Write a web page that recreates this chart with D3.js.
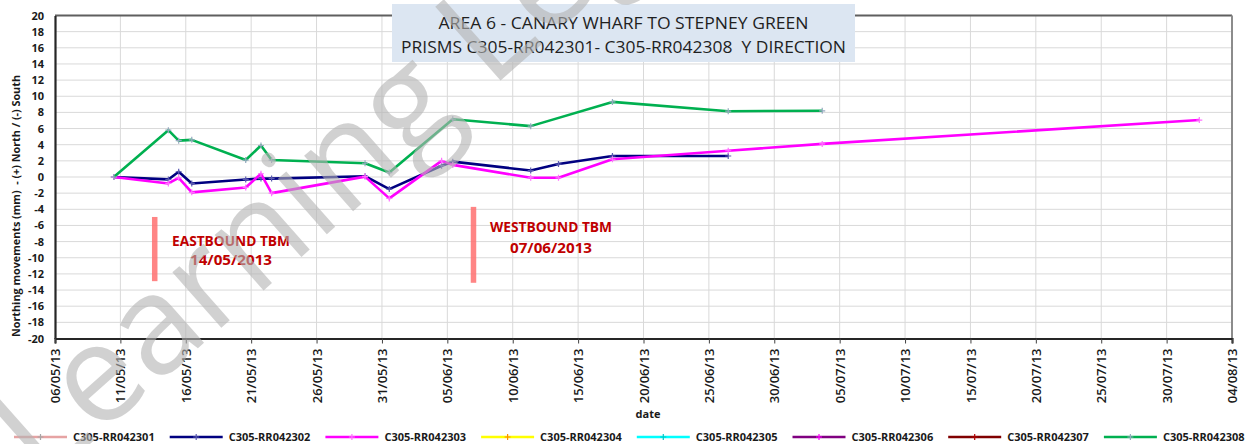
<!DOCTYPE html>
<html><head><meta charset="utf-8">
<script src="https://cdn.jsdelivr.net/npm/d3@7"></script>
<style>
body{margin:0;background:#fff;}
text{font-family:"Open Sans",sans-serif;}
</style>
</head><body>
<svg id="chart" width="1253" height="444"></svg>
<script>
// ---------- data ----------
const seriesNames = ["C305-RR042301","C305-RR042302","C305-RR042303","C305-RR042304","C305-RR042305","C305-RR042306","C305-RR042307","C305-RR042308"];
const seriesColors = ["#e6a3a3","#000080","#ff00ff","#ffff00","#00ffff","#800080","#800000","#00b050"];
const markerColors = ["#a6a6a6","#5a5ab0","#ff70ff","#ff8c00","#00c8c8","#ff00ff","#b00000","#95a9bf"];

const obsDates = ["2013-05-10 12:00","2013-05-14 16:00","2013-05-15 11:00","2013-05-16 11:00","2013-05-20 14:00",
  "2013-05-21 18:00","2013-05-22 13:30","2013-05-29 17:00","2013-05-31 13:30","2013-06-04 13:30",
  "2013-06-05 10:00","2013-06-11 09:00","2013-06-13 12:00","2013-06-17 15:00","2013-06-26 11:30",
  "2013-07-03 16:00","2013-08-01 12:00"];

const s301 = [];
const s302 = [0, -0.3, 0.65, -0.8, -0.3, -0.2, -0.2, 0.1, -1.5, 1.4, 1.9, 0.8, 1.6, 2.6, 2.6, null, null];
const s303 = [0, -0.8, -0.1, -1.9, -1.3, 0.4, -2.0, 0.05, -2.65, 2.0, 1.5, -0.1, -0.1, 2.2, 3.25, 4.1, 7.05];
const s304 = [];
const s305 = [];
const s306 = [];
const s307 = [];
const s308 = [0, 5.8, 4.5, 4.6, 2.1, 3.9, 2.1, 1.7, 0.55, null, 7.15, 6.3, null, 9.3, 8.15, 8.2, null];
const seriesValues = [s301,s302,s303,s304,s305,s306,s307,s308];

const xTickLabels = ["06/05/13","11/05/13","16/05/13","21/05/13","26/05/13","31/05/13","05/06/13","10/06/13","15/06/13",
  "20/06/13","25/06/13","30/06/13","05/07/13","10/07/13","15/07/13","20/07/13","25/07/13","30/07/13","04/08/13"];
const yTicks = [20,18,16,14,12,10,8,6,4,2,0,-2,-4,-6,-8,-10,-12,-14,-16,-18,-20];

const titleLines = ["AREA 6 - CANARY WHARF TO STEPNEY GREEN","PRISMS C305-RR042301- C305-RR042308  Y DIRECTION"];
const yAxisTitle = "Northing movements (mm)  - (+) North / (-) South";
const xAxisTitle = "date";

const tbmLabels = [["EASTBOUND TBM","14/05/2013"],["WESTBOUND TBM","07/06/2013"]];
const tbmBarDates = ["2013-05-13 15:00","2013-06-07 00:00"];
const tbmBarTop = [-4.95, -3.7];
const tbmBarBottom = [-12.9, -13.1];
const watermarkText = "Learning Legacy";

// ---------- setup ----------
const svg = d3.select("#chart");
const parseObs = d3.timeParse("%Y-%m-%d %H:%M");
const parseTick = d3.timeParse("%d/%m/%y");
const tickDates = xTickLabels.map(parseTick);
const dates = obsDates.map(parseObs);

const X0 = 55, X1 = 1232, Y0 = 15.5, Y1 = 338.5;
const x = d3.scaleTime().domain([tickDates[0], tickDates[tickDates.length-1]]).range([X0, X1]);
const y = d3.scaleLinear().domain([-20, 20]).range([Y1, Y0]);

// gridlines
const grid = svg.append("g");
grid.selectAll(".hg").data(yTicks).join("line")
  .attr("x1", X0).attr("x2", X1).attr("y1", d => y(d)).attr("y2", d => y(d))
  .attr("stroke", "#d9d9d9").attr("stroke-width", 1);
grid.selectAll(".vg").data(tickDates.slice(1)).join("line")
  .attr("x1", d => x(d)).attr("x2", d => x(d)).attr("y1", Y0).attr("y2", Y1)
  .attr("stroke", "#d9d9d9").attr("stroke-width", 1);

// frame top/right
svg.append("line").attr("x1", X0).attr("x2", X1).attr("y1", Y0).attr("y2", Y0).attr("stroke", "#5f5f5f").attr("stroke-width", 2);
svg.append("line").attr("x1", X1).attr("x2", X1).attr("y1", Y0).attr("y2", Y1).attr("stroke", "#8c8c8c").attr("stroke-width", 2);

// axes
const yAxis = svg.append("g").attr("transform", `translate(${X0},0)`)
  .call(d3.axisLeft(y).tickValues(yTicks).tickSize(0).tickPadding(11).tickFormat(d => d));
yAxis.select(".domain").attr("stroke", "#262626").attr("stroke-width", 2.2);
yAxis.selectAll("text").attr("font-size", 11).attr("font-weight", "bold").attr("fill", "#1a1a1a")
  .style("font-family", "'Open Sans',sans-serif");

const xAxis = svg.append("g").attr("transform", `translate(0,${Y1})`)
  .call(d3.axisBottom(x).tickValues(tickDates).tickSize(5).tickFormat((d,i) => xTickLabels[i]));
xAxis.select(".domain").attr("stroke", "#262626").attr("stroke-width", 2.2);
xAxis.selectAll("line").attr("stroke", "#404040");
xAxis.selectAll("text").attr("transform", "rotate(-90)").attr("x", -10).attr("y", 0).attr("dy", "0.35em")
  .attr("text-anchor", "end").attr("font-size", 13).attr("font-weight", 600).attr("fill", "#1a1a1a")
  .style("font-family", "'Open Sans',sans-serif");

// axis titles
svg.append("text").attr("transform", `translate(20,206) rotate(-90)`).attr("text-anchor", "middle")
  .attr("font-size", 10).attr("font-weight", "bold").attr("fill", "#1a1a1a")
  .style("white-space", "pre").attr("textLength", 262).attr("lengthAdjust", "spacingAndGlyphs").text(yAxisTitle);
svg.append("text").attr("x", 648).attr("y", 418).attr("text-anchor", "middle")
  .attr("font-size", 11).attr("font-weight", "bold").attr("fill", "#1a1a1a").text(xAxisTitle);

// title box
svg.append("rect").attr("x", 392).attr("y", 4).attr("width", 463).attr("height", 58).attr("fill", "#dce6f2");
const titleY = [29.3, 52.7], titleW = [370, 445];
titleLines.forEach((t, i) => {
  svg.append("text").attr("x", 623.5).attr("y", titleY[i]).attr("text-anchor", "middle")
    .attr("font-size", 17).attr("fill", "#1f1f1f").style("white-space", "pre")
    .attr("textLength", titleW[i]).attr("lengthAdjust", "spacingAndGlyphs").text(t);
});

// TBM annotations
tbmBarDates.forEach((d, i) => {
  const bx = x(parseObs(d));
  svg.append("rect").attr("x", bx - 2.75).attr("width", 5.5)
    .attr("y", y(tbmBarTop[i])).attr("height", y(tbmBarBottom[i]) - y(tbmBarTop[i]))
    .attr("fill", "#ff7070").attr("opacity", 0.85);
});
const tbmPos = [[231, 246, 265, 118, 82], [551, 232.3, 253.3, 122, 82]];
tbmLabels.forEach((lines, i) => {
  const p = tbmPos[i];
  svg.append("text").attr("x", p[0]).attr("y", p[1]).attr("text-anchor", "middle")
    .attr("font-size", 14).attr("font-weight", "bold").attr("fill", "#c00000")
    .attr("textLength", p[3]).attr("lengthAdjust", "spacingAndGlyphs").text(lines[0]);
  svg.append("text").attr("x", p[0]).attr("y", p[2]).attr("text-anchor", "middle")
    .attr("font-size", 14).attr("font-weight", "bold").attr("fill", "#c00000")
    .attr("textLength", p[4]).attr("lengthAdjust", "spacingAndGlyphs").text(lines[1]);
});

// series lines
const line = d3.line().x(d => x(d.date)).y(d => y(d.v));
seriesValues.forEach((vals, si) => {
  const pts = vals.map((v, i) => ({date: dates[i], v})).filter(d => d.v !== null && d.v !== undefined);
  if (!pts.length) return;
  svg.append("path").datum(pts).attr("d", line).attr("fill", "none")
    .attr("stroke", seriesColors[si]).attr("stroke-width", 2.6).attr("stroke-linejoin", "round");
  const m = svg.append("g");
  m.selectAll("path").data(pts).join("path")
    .attr("d", d => `M${x(d.date)-3},${y(d.v)}h6M${x(d.date)},${y(d.v)-3}v6`)
    .attr("stroke", markerColors[si]).attr("stroke-width", 1.2);
});

// legend
const legend = svg.append("g");
seriesNames.forEach((n, i) => {
  const lx = 14 + i * 155.7, ly = 437;
  legend.append("line").attr("x1", lx).attr("x2", lx + 53).attr("y1", ly).attr("y2", ly)
    .attr("stroke", seriesColors[i]).attr("stroke-width", 2.6);
  legend.append("path").attr("d", `M${lx+26.5-3},${ly}h6M${lx+26.5},${ly-3}v6`)
    .attr("stroke", markerColors[i]).attr("stroke-width", 1.2);
  legend.append("text").attr("x", lx + 59).attr("y", ly + 4).attr("font-size", 11).attr("font-weight", "bold")
    .attr("fill", "#1a1a1a").text(n);
});

// watermark
const wm = svg.append("g").attr("transform", "translate(126,412) rotate(-41.5)");
const wt = wm.append("text").attr("font-size", 138).attr("fill", "#b4b4b4").attr("opacity", 0.6).text(watermarkText);
const node = wt.node();
const Lw = node.getSubStringLength(0, 1), ew = node.getSubStringLength(1, 1);
wt.attr("x", -(Lw + ew / 2));
</script>
</body></html>
